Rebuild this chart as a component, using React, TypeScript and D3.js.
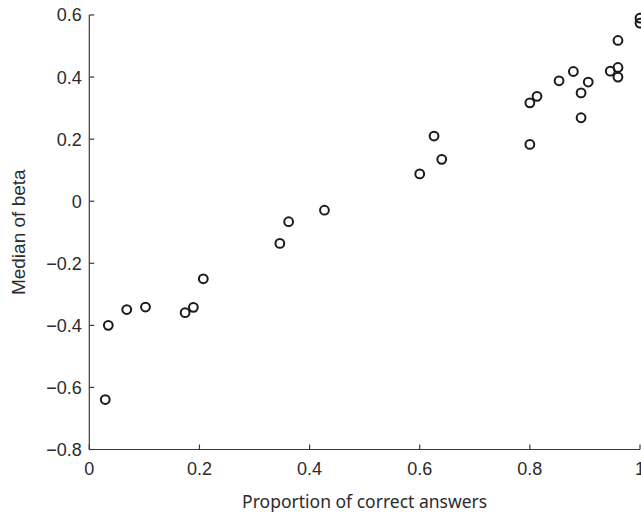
import React from "react";
import * as d3 from "d3";

const proportionCorrect: number[] = [
  0.0345, 0.029, 0.068, 0.102, 0.174, 0.189, 0.207,
  0.346, 0.362, 0.427,
  0.6, 0.64, 0.626, 0.8, 0.8, 0.813, 0.853, 0.879, 0.893, 0.906, 0.893,
  0.946, 0.96, 0.96, 0.96, 1.0, 1.0,
];
const medianBeta: number[] = [
  -0.4, -0.639, -0.349, -0.341, -0.359, -0.342, -0.25,
  -0.136, -0.066, -0.029,
  0.088, 0.135, 0.21, 0.183, 0.317, 0.338, 0.388, 0.418, 0.349, 0.384, 0.269,
  0.419, 0.431, 0.4, 0.518, 0.59, 0.574,
];
const xTicks: number[] = [0, 0.2, 0.4, 0.6, 0.8, 1];
const yTicks: number[] = [-0.8, -0.6, -0.4, -0.2, 0, 0.2, 0.4, 0.6];
const xLabel = "Proportion of correct answers";
const yLabel = "Median of beta";

const W = 641;
const H = 515;
const left = 89.3;
const right = 640;
const top = 15;
const bottom = 449.5;

const fmt = (v: number) => {
  if (v === 0) return "0";
  if (v === 1) return "1";
  const s = v.toFixed(1);
  return v < 0 ? "\u2212" + s.slice(1) : s;
};

export default function App() {
  const x = d3.scaleLinear().domain([0, 1]).range([left, right]);
  const y = d3.scaleLinear().domain([-0.8, 0.6]).range([bottom, top]);
  const tickFont = "'Liberation Sans', Arial, sans-serif";
  const labelFont = "'Noto Sans', sans-serif";
  const textColor = "#2b2b2b";
  const axisColor = "#3a3a3a";
  return (
    <svg
      width={W}
      height={H}
      style={{ position: "absolute", left: 0, top: 0, background: "#fff" }}
    >
      <g>
        <line x1={left} x2={left} y1={top} y2={bottom} stroke={axisColor} strokeWidth={1.2} />
        <line x1={left} x2={right} y1={bottom} y2={bottom} stroke={axisColor} strokeWidth={1.2} />
        {yTicks.map((t) => (
          <g key={"y" + t}>
            <line x1={left} x2={left + 5} y1={y(t)} y2={y(t)} stroke={axisColor} strokeWidth={1.2} />
            <text
              x={left - 7.6}
              y={y(t)}
              dy="0.36em"
              textAnchor="end"
              fontFamily={tickFont}
              fontSize={18}
              fill={textColor}
            >
              {fmt(t)}
            </text>
          </g>
        ))}
        {xTicks.map((t) => (
          <g key={"x" + t}>
            <line x1={x(t)} x2={x(t)} y1={bottom} y2={bottom - 5} stroke={axisColor} strokeWidth={1.2} />
            <text
              x={x(t)}
              y={bottom + 25.5}
              textAnchor="middle"
              fontFamily={tickFont}
              fontSize={18}
              fill={textColor}
            >
              {fmt(t)}
            </text>
          </g>
        ))}
        <text
          x={(left + right) / 2}
          y={508}
          textAnchor="middle"
          fontFamily={labelFont}
          fontSize={17.5}
          fill={textColor}
        >
          {xLabel}
        </text>
        <text
          transform={`translate(25, ${(top + bottom) / 2}) rotate(-90)`}
          textAnchor="middle"
          fontFamily={tickFont}
          fontSize={19}
          fill={textColor}
        >
          {yLabel}
        </text>
      </g>
      <g>
        {proportionCorrect.map((p, i) => (
          <circle
            key={i}
            cx={x(p)}
            cy={y(medianBeta[i])}
            r={4.4}
            fill="none"
            stroke="#1a1a1a"
            strokeWidth={2}
          />
        ))}
      </g>
    </svg>
  );
}
